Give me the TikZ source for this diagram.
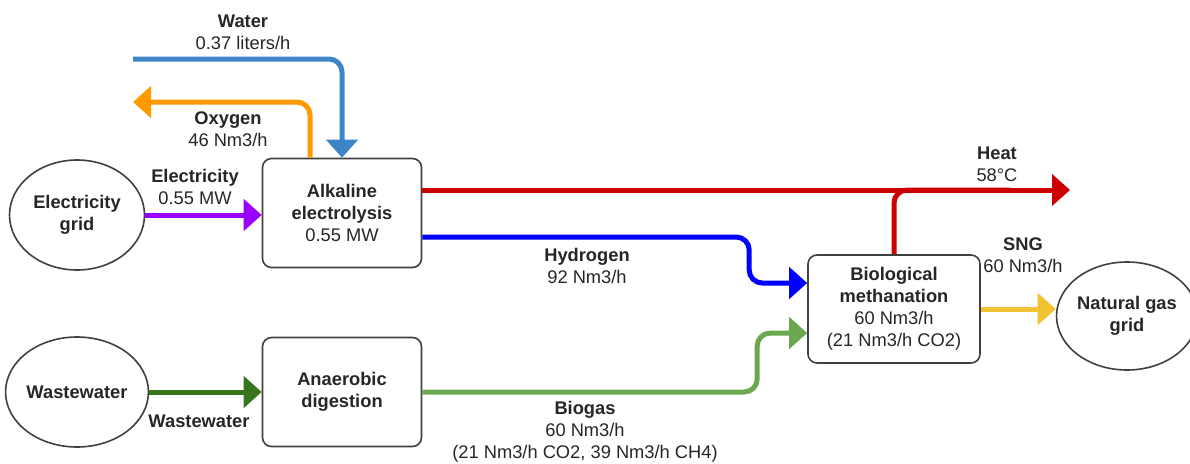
\documentclass[tikz,border=0pt]{standalone}
\usepackage{fontspec}
\setmainfont{Liberation Sans}
\usetikzlibrary{arrows.meta,shapes.geometric}

\definecolor{waterblue}{HTML}{3D85C6}
\definecolor{oxyorange}{HTML}{FF9900}
\definecolor{elecpurple}{HTML}{9900FF}
\definecolor{heatred}{HTML}{CC0000}
\definecolor{hydroblue}{HTML}{0000FF}
\definecolor{sngyellow}{HTML}{F1C232}
\definecolor{biogreen}{HTML}{6AA84F}
\definecolor{wwgreen}{HTML}{38761D}

\begin{document}
\begin{tikzpicture}[
    x=1pt,
    y=-1pt,
    txt/.style={
        text=black!85,
        font=\fontsize{18.3}{22}\selectfont
    },
    box/.style={
        txt,
        draw=black!75,
        line width=1.6pt,
        rounded corners=9pt,
        minimum width=159pt,
        minimum height=109pt,
        align=center
    },
    source/.style={
        txt,
        ellipse,
        draw=black!75,
        line width=1.6pt,
        minimum width=135pt,
        minimum height=110pt,
        inner sep=0pt,
        align=center
    },
    lbl/.style={
        txt,
        align=center,
        inner sep=0pt
    },
    flow/.style={
        line width=5pt,
        rounded corners=13pt,
        -{Triangle[length=18pt,width=31pt]}
    },
    pipe/.style={
        line width=5pt,
        rounded corners=13pt
    }
]
\useasboundingbox (0,0) rectangle (1190,463);

% =====================
% Bloques
% =====================
\node[source] (egrid) at (77,215)   {\textbf{Electricity}\\\textbf{grid}};
\node[box]    (alk)   at (342,213)  {\textbf{Alkaline}\\\textbf{electrolysis}\\0.55 MW};
\node[source] (ww)    at (77,392)   {\textbf{Wastewater}};
\node[box]    (ana)   at (342,392)  {\textbf{Anaerobic}\\\textbf{digestion}};
\node[box, minimum width=172pt, minimum height=108pt]
              (meth)  at (894,309)  {\textbf{Biological}\\\textbf{methanation}\\60 Nm3/h\\(21 Nm3/h CO2)};
\node[source, minimum width=126pt, minimum height=108pt]
              (ngrid) at (1127,316) {\textbf{Natural gas}\\\textbf{grid}};

% =====================
% Extremos libres
% =====================
\coordinate (waterin) at (133,59);
\coordinate (oxyout)  at (133,102);
\coordinate (heatout) at (1070,190);

% =====================
% Flujos
% =====================
\draw[flow, waterblue] (waterin) -| (alk.north);
\draw[flow, oxyorange] ([xshift=-32pt]alk.north) |- (oxyout);
\draw[flow, elecpurple] (egrid.east) -- (egrid.east -| alk.west);
\draw[flow, heatred] ([yshift=23pt]alk.east) -- (heatout);
\draw[pipe, heatred] (meth.north) |- ([xshift=-60pt]heatout);
\draw[flow, hydroblue] ([yshift=-24pt]alk.east)
    -| ([xshift=-58pt,yshift=26pt]meth.west) -- ([yshift=26pt]meth.west);
\draw[flow, wwgreen] (ww.east) -- (ww.east -| ana.west);
\draw[flow, biogreen] (ana.east)
    -| ([xshift=-50pt,yshift=-24pt]meth.west) -- ([yshift=-24pt]meth.west);
\draw[flow, sngyellow] (meth.east) -- (meth.east -| ngrid.west);

% =====================
% Etiquetas
% =====================
\node[lbl] (waterlbl) at (243,32)  {\textbf{Water}\\0.37 liters/h};
\node[lbl] (oxylbl)   at (228,129) {\textbf{Oxygen}\\46 Nm3/h};
\node[lbl] (eleclbl)  at (195,187) {\textbf{Electricity}\\0.55 MW};
\node[lbl] (heatlbl)  at (997,164) {\textbf{Heat}\\58°C};
\node[lbl] (hydrolbl) at (587,266) {\textbf{Hydrogen}\\92 Nm3/h};
\node[lbl] (snglbl)   at (1023,255) {\textbf{SNG}\\60 Nm3/h};
\node[lbl] (wwlbl)    at (199,421) {\textbf{Wastewater}};
\node[lbl] (biolbl)   at (585,432) {\textbf{Biogas}\\60 Nm3/h\\(21 Nm3/h CO2, 39 Nm3/h CH4)};

\end{tikzpicture}
\end{document}
